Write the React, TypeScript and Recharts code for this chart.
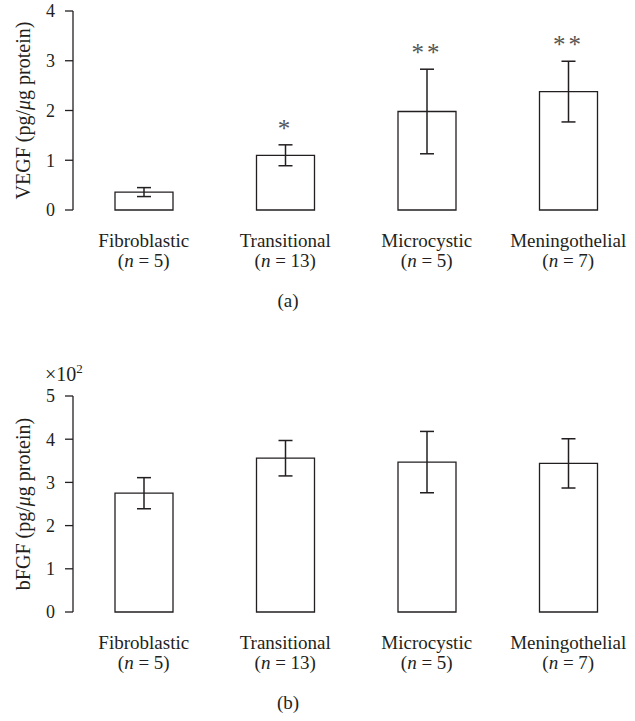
import React from "react";
import {
  BarChart,
  Bar,
  XAxis,
  YAxis,
  ErrorBar,
  LabelList,
  Label,
} from "recharts";

const categories = ["Fibroblastic", "Transitional", "Microcystic", "Meningothelial"];
const sampleSizes = [5, 13, 5, 7];

const vegfMean = [0.36, 1.1, 1.98, 2.38];
const vegfErr = [0.09, 0.21, 0.85, 0.61];
const vegfSig = ["", "*", "**", "**"];
const vegfTicks = [0, 1, 2, 3, 4];

// bFGF in pg/ug protein, axis shown in units of 10^2
const bfgfMean = [275, 356, 347, 344];
const bfgfErr = [36, 41, 71, 57];
const bfgfTicks = [0, 100, 200, 300, 400, 500];

const FONT = "'Liberation Serif', 'Times New Roman', serif";
const INK = "#231f20";
const AXIS_W = 73;

const vegfData = categories.map((name, i) => ({
  name,
  mean: vegfMean[i],
  err: vegfErr[i],
  sig: vegfSig[i],
}));

const bfgfData = categories.map((name, i) => ({
  name,
  mean: bfgfMean[i],
  err: bfgfErr[i],
}));

function CategoryTick(props: any) {
  const { x, y, payload } = props;
  const i = categories.indexOf(payload.value);
  return (
    <g fontFamily={FONT} fontSize={19} fill={INK}>
      <text x={x} y={y + 37} textAnchor="middle">
        {payload.value}
      </text>
      <text x={x} y={y + 57} textAnchor="middle">
        (<tspan fontStyle="italic">n</tspan> = {sampleSizes[i]})
      </text>
    </g>
  );
}

// tick label sits 18px left of the axis line (8px tick + 10px gap)
function ValueTick(props: any) {
  const { y, payload, scaleDown } = props;
  const v = scaleDown ? payload.value / scaleDown : payload.value;
  return (
    <text
      x={AXIS_W - 18}
      y={y}
      dy="0.36em"
      textAnchor="end"
      fontFamily={FONT}
      fontSize={18}
      fill={INK}
    >
      {v}
    </text>
  );
}

function yTitle(prefix: string) {
  return (p: any) => {
    const vb = p.viewBox;
    const cy = vb.y + vb.height / 2;
    return (
      <text
        x={23}
        y={cy}
        transform={`rotate(-90, 23, ${cy})`}
        textAnchor="middle"
        dominantBaseline="central"
        fontFamily={FONT}
        fontSize={20}
        fill={INK}
      >
        {prefix} (pg/<tspan fontStyle="italic">μ</tspan>g protein)
      </text>
    );
  };
}

function panelTag(tag: string) {
  return (p: any) => (
    <text
      x={288}
      y={p.viewBox.y + 97}
      textAnchor="middle"
      fontFamily={FONT}
      fontSize={19}
      fill={INK}
    >
      {tag}
    </text>
  );
}

function SigStars(props: any) {
  const { x, y, width, height, value, index } = props;
  const sig = vegfSig[index];
  if (!sig) return null;
  const ppu = height / value;
  const errTop = y - vegfErr[index] * ppu;
  return (
    <text
      x={x + width / 2}
      y={errTop - 20 + 12}
      textAnchor="middle"
      fontFamily={FONT}
      fontSize={25}
      letterSpacing={3}
      fill="#555"
    >
      {sig}
    </text>
  );
}

export default function App() {
  return (
    <div
      style={{
        position: "absolute",
        left: 0,
        top: 0,
        width: 635,
        height: 721,
        overflow: "hidden",
        background: "#fff",
      }}
    >
      <div style={{ position: "absolute", left: 0, top: 0 }}>
        <BarChart
          width={640}
          height={330}
          data={vegfData}
          margin={{ top: 11, right: 1, bottom: 0, left: 0 }}
        >
          <XAxis
            dataKey="name"
            height={120}
            axisLine={false}
            tickLine={false}
            tickSize={0}
            tickMargin={0}
            interval={0}
            tick={<CategoryTick />}
          >
            <Label content={panelTag("(a)")} />
          </XAxis>
          <YAxis
            width={AXIS_W}
            domain={[0, 4]}
            ticks={vegfTicks}
            interval={0}
            tickSize={8}
            tickMargin={10}
            axisLine={{ stroke: INK, strokeWidth: 1.3 }}
            tickLine={{ stroke: INK, strokeWidth: 1.3 }}
            tick={<ValueTick />}
          >
            <Label content={yTitle("VEGF")} />
          </YAxis>
          <Bar
            dataKey="mean"
            barSize={58}
            fill="#fff"
            stroke={INK}
            strokeWidth={1.3}
            isAnimationActive={false}
          >
            <ErrorBar
              dataKey="err"
              width={7}
              stroke={INK}
              strokeWidth={1.5}
              isAnimationActive={false}
            />
            <LabelList dataKey="mean" content={<SigStars />} />
          </Bar>
        </BarChart>
      </div>
      <div style={{ position: "absolute", left: 0, top: 340 }}>
        <BarChart
          width={640}
          height={381}
          data={bfgfData}
          margin={{ top: 56, right: 1, bottom: 0, left: 0 }}
        >
          <XAxis
            dataKey="name"
            height={109}
            axisLine={false}
            tickLine={false}
            tickSize={0}
            tickMargin={0}
            interval={0}
            tick={<CategoryTick />}
          >
            <Label content={panelTag("(b)")} />
          </XAxis>
          <YAxis
            width={AXIS_W}
            domain={[0, 500]}
            ticks={bfgfTicks}
            interval={0}
            tickSize={8}
            tickMargin={10}
            axisLine={{ stroke: INK, strokeWidth: 1.3 }}
            tickLine={{ stroke: INK, strokeWidth: 1.3 }}
            tick={<ValueTick scaleDown={100} />}
          >
            <Label content={yTitle("bFGF")} />
            <Label
              content={() => (
                <text x={45} y={41} fontFamily={FONT} fontSize={20} fill={INK}>
                  ×10
                  <tspan dy={-8} fontSize={13}>
                    2
                  </tspan>
                </text>
              )}
            />
          </YAxis>
          <Bar
            dataKey="mean"
            barSize={58}
            fill="#fff"
            stroke={INK}
            strokeWidth={1.3}
            isAnimationActive={false}
          >
            <ErrorBar
              dataKey="err"
              width={7}
              stroke={INK}
              strokeWidth={1.5}
              isAnimationActive={false}
            />
          </Bar>
        </BarChart>
      </div>
    </div>
  );
}
